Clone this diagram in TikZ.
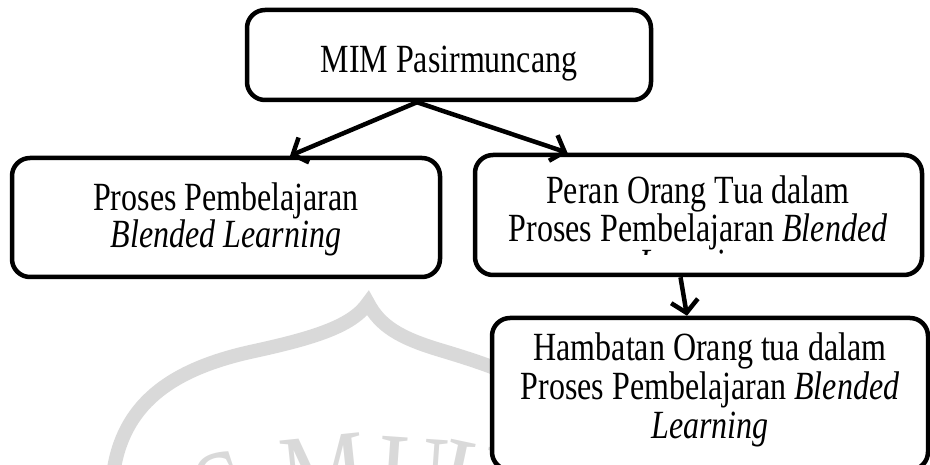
\documentclass[tikz,border=0pt]{standalone}
\usepackage{fontspec}
\setmainfont{Liberation Serif}[FakeStretch=0.8]
\usetikzlibrary{arrows.meta}
\tikzset{
  kotak/.style = {draw, line width=4.5pt, rounded corners=18pt, fill=white, inner sep=0pt},
  teks/.style  = {align=center, inner sep=0pt, anchor=north, font=\fontsize{40}{#1}\selectfont},
  panah/.style = {line width=4.5pt, -{Straight Barb[length=12pt,width=27pt]}},
  logo/.style  = {draw=black!15, line width=14pt, line join=miter, miter limit=20},
  huruf/.style = {text=black!15, anchor=base, inner sep=0pt, font=\fontsize{120}{120}\selectfont}
}
\begin{document}
\begin{tikzpicture}[x=1pt, y=-1pt]
                  \useasboundingbox (0,0) rectangle (930,465);
                  \clip (0,0) rectangle (930,465);
                  % watermark
                  \draw[logo] (113,475) .. controls (122,405) and (170,370) .. (250,352)
                        .. controls (310,339) and (352,327) .. (368,303)
                        .. controls (380,326) and (400,338) .. (440,350)
                        .. controls (480,362) and (520,375) .. (560,400);
                  \node[huruf, rotate=18] (wS) at (236,530) {S};
                  \node[huruf, rotate=6]  (wM) at (328,515) {M};
                  \node[huruf, rotate=-4] (wU) at (410,517) {U};
                  \node[huruf, rotate=-12] (wH) at (466,523) {H};
                  % kotak
                  \node[kotak, minimum width=404pt, minimum height=90pt]  (mim)      at (449,55)    {};
                  \node[kotak, minimum width=428pt, minimum height=119pt] (proses)   at (226,217.5) {};
                  \node[kotak, minimum width=447pt, minimum height=120pt] (peran)    at (698.5,215) {};
                  \node[kotak, minimum width=436pt, minimum height=152pt] (hambatan) at (710,394)   {};
                  % teks
                  \node[teks=36] (mim-t) at (449,46) {MIM Pasirmuncang};
                  \node[teks=37] (proses-t) at (226,183) {Proses Pembelajaran\\\textit{Blended Learning}};
                  \begin{scope}
                    \clip (peran.north west) rectangle ([yshift=23pt]peran.south east);
                    \node[teks=35] (peran-t) at (698,176) {Peran Orang Tua dalam\\Proses Pembelajaran \textit{Blended}\\\textit{Learning}};
                  \end{scope}
                  \node[teks=39] (hambatan-t) at (710,333) {Hambatan Orang tua dalam\\Proses Pembelajaran \textit{Blended}\\\textit{Learning}};
                  % panah
                  \draw[panah] ([xshift=-32pt]mim.south) -- ([xshift=64pt]proses.north);
                  \draw[panah] ([xshift=-32pt]mim.south) -- ([xshift=-131pt]peran.north);
                  \draw[panah] ([xshift=-18pt]peran.south) -- ([xshift=-23pt]hambatan.north);
              \end{tikzpicture}
\end{document}
